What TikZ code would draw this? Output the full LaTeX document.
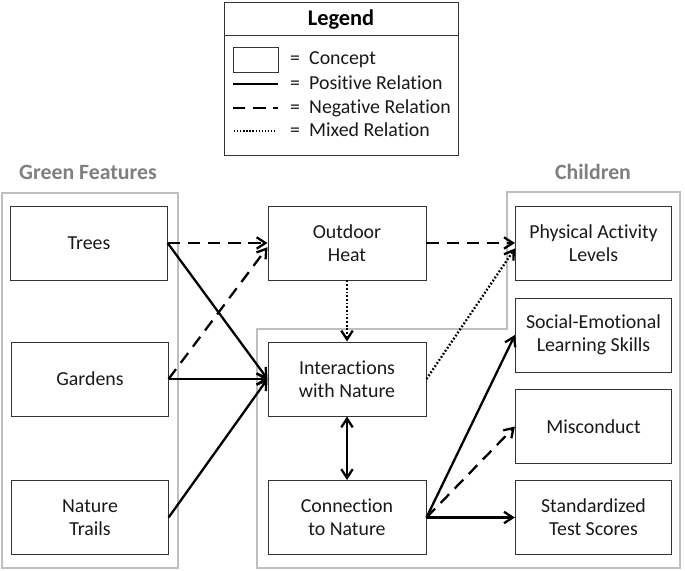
\documentclass[tikz,border=0pt]{standalone}
\usepackage{fontspec}
\setmainfont{Carlito}[Ligatures=CommonOff]
\usepackage{tikz}
\usetikzlibrary{arrows.meta}
\definecolor{headgray}{RGB}{127,127,127}
\definecolor{framegray}{RGB}{191,191,191}
\tikzset{
    concept/.style={draw=black!80, line width=1.1pt, minimum width=6.25cm, minimum height=2.96cm,
        align=center, inner sep=0pt, text=black!90, font=\fontsize{22.6}{26.5}\selectfont},
    rel/.style={line width=2.6pt, -{Straight Barb[length=10pt,width=13pt]}},
    posrel/.style={rel},
    negrel/.style={rel, dash pattern=on 14pt off 9pt},
    mixrel/.style={rel, dash pattern=on 2pt off 2.2pt},
    groupframe/.style={draw=framegray, line width=1.5pt},
    grouptitle/.style={anchor=base, inner sep=0pt, text=headgray, font=\fontsize{24.8}{28}\selectfont\bfseries},
    legendtext/.style={anchor=base west, inner sep=0pt, text=black!90, font=\fontsize{22.6}{26.5}\selectfont}
}
\begin{document}
\begin{tikzpicture}
        \useasboundingbox (0,0) rectangle (27.4,22.8);
        % Legend
        \draw (13.64,19.66) node[draw=black!80, line width=1.1pt, minimum width=9.36cm, minimum height=6.12cm](legend) {};
        \draw[line width=1.1pt, draw=black!80] (legend.west |- 0,21.4) -- (legend.east |- 0,21.4);
        \draw (13.64,21.76) node[grouptitle, text=black, font=\fontsize{25.5}{28}\selectfont\bfseries](legendtitle) {Legend};
        \draw (10.22,20.42) node[draw=black!80, line width=1.1pt, minimum width=1.8cm, minimum height=1cm](legendbox) {};
        \draw[line width=2.6pt] (9.32,19.44) -- (11.12,19.44);
        \draw[line width=2.6pt, dash pattern=on 14pt off 9pt] (9.32,18.48) -- (11.12,18.48);
        \draw[line width=1.8pt, dash pattern=on 1.5pt off 2pt] (9.36,17.56) -- (11.0,17.56);
        \draw (11.6,20.2) node[legendtext](eq1) {=};
        \draw (11.6,19.2) node[legendtext](eq2) {=};
        \draw (11.6,18.24) node[legendtext](eq3) {=};
        \draw (11.6,17.32) node[legendtext](eq4) {=};
        \draw (12.36,20.2) node[legendtext](lconcept) {Concept};
        \draw (12.36,19.2) node[legendtext](lpos) {Positive Relation};
        \draw (12.36,18.24) node[legendtext](lneg) {Negative Relation};
        \draw (12.36,17.32) node[legendtext](lmix) {Mixed Relation};

        % Groups
        \draw[groupframe] (0.08,0.08) rectangle (7.12,15.08);
        \draw[groupframe] (20.28,15.12) -- (27.2,15.12) -- (27.2,0.08) -- (10.28,0.08)
            -- (10.28,9.64) -- (20.28,9.64) -- cycle;
        \draw (3.52,15.6) node[grouptitle](greentitle) {Green Features};
        \draw (23.72,15.6) node[grouptitle](childtitle) {Children};

        % Concepts
        \draw (3.56,13.08) node[concept](trees) {Trees};
        \draw (3.6,7.64) node[concept](gardens) {Gardens};
        \draw (3.6,2.1) node[concept](trails) {Nature\\Trails};
        \draw (13.88,13.08) node[concept, minimum width=6.32cm](heat) {Outdoor\\Heat};
        \draw (13.88,7.64) node[concept, minimum width=6.32cm](inter) {Interactions\\with Nature};
        \draw (13.88,2.1) node[concept, minimum width=6.32cm](conn) {Connection\\to Nature};
        \draw (23.74,13.08) node[concept](phys) {Physical Activity\\Levels};
        \draw (23.74,9.4) node[concept](social) {Social-Emotional\\Learning Skills};
        \draw (23.74,5.74) node[concept](misc) {Misconduct};
        \draw (23.74,2.1) node[concept](scores) {Standardized\\Test Scores};

        % Relations
        \draw[negrel] (trees.east) -- (heat.west);
        \draw[posrel] (trees.east) -- (inter.west);
        \draw[negrel] (gardens.east) -- (heat.183);
        \draw[posrel] (gardens.east) -- (inter.west);
        \draw[posrel] (trails.east) -- (inter.west);
        \draw[mixrel] (heat.south) -- (inter.north);
        \draw[negrel] (heat.east) -- (phys.west);
        \draw[mixrel] (inter.east) -- (phys.184);
        \draw[posrel, {Straight Barb[length=10pt,width=13pt]}-{Straight Barb[length=10pt,width=13pt]}] (inter.south) -- (conn.north);
        \draw[posrel] (conn.east) -- (social.west);
        \draw[negrel] (conn.east) -- (misc.west);
        \draw[posrel] (conn.east) -- (scores.west);
    \end{tikzpicture}
\end{document}
